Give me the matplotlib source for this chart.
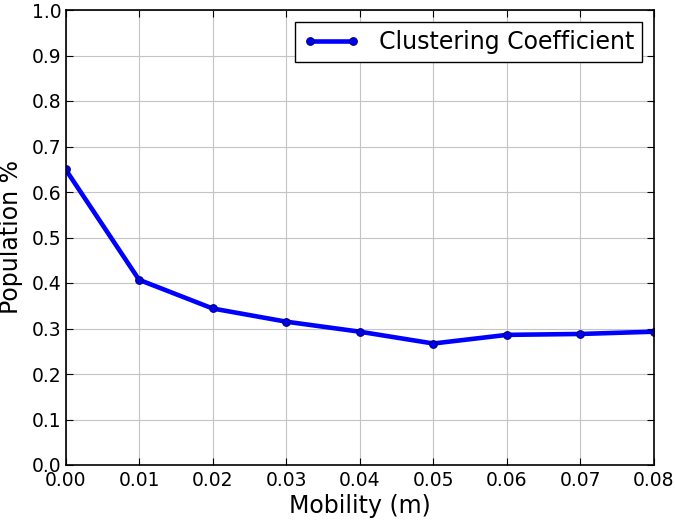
import matplotlib
matplotlib.use('Agg')
import matplotlib.pyplot as plt

# data
mobility = [0.00, 0.01, 0.02, 0.03, 0.04, 0.05, 0.06, 0.07, 0.08]
clustering = [0.650, 0.407, 0.344, 0.315, 0.293, 0.267, 0.286, 0.288, 0.293]
xticks = [0.00, 0.01, 0.02, 0.03, 0.04, 0.05, 0.06, 0.07, 0.08]
yticks = [0.0, 0.1, 0.2, 0.3, 0.4, 0.5, 0.6, 0.7, 0.8, 0.9, 1.0]

fig = plt.figure(figsize=(6.75, 5.21), dpi=100)
ax = fig.add_axes([65.5 / 675, 56 / 521, 588.5 / 675, 455 / 521])

ax.plot(mobility, clustering, '-o', color='#0000ff', lw=3.3, ms=5.5,
        mec='#000080', mfc='#0000ee', mew=0.8, label='Clustering Coefficient')

ax.set_xlim(0, 0.08)
ax.set_ylim(0, 1.0)
ax.set_xticks(xticks)
ax.set_xticklabels(['%.2f' % v for v in xticks])
ax.set_yticks(yticks)
ax.set_yticklabels(['%.1f' % v for v in yticks])
ax.tick_params(direction='in', top=True, right=True, labelsize=13.5, length=5, pad=4)
ax.tick_params(axis='y', pad=3)
ax.grid(True, color='#c4c4c4', lw=0.8)
for s in ax.spines.values():
    s.set_linewidth(1.2)

ax.set_xlabel('Mobility (m)', fontsize=17, labelpad=3)
ax.set_ylabel('Population %', fontsize=17, labelpad=6)

leg = ax.legend(loc='upper right', fontsize=17, numpoints=2, fancybox=False,
                framealpha=1, edgecolor='black', handlelength=2.4,
                borderaxespad=0.5, borderpad=0.35)
leg.get_frame().set_linewidth(1.0)

fig.savefig('out.png', dpi=100)
